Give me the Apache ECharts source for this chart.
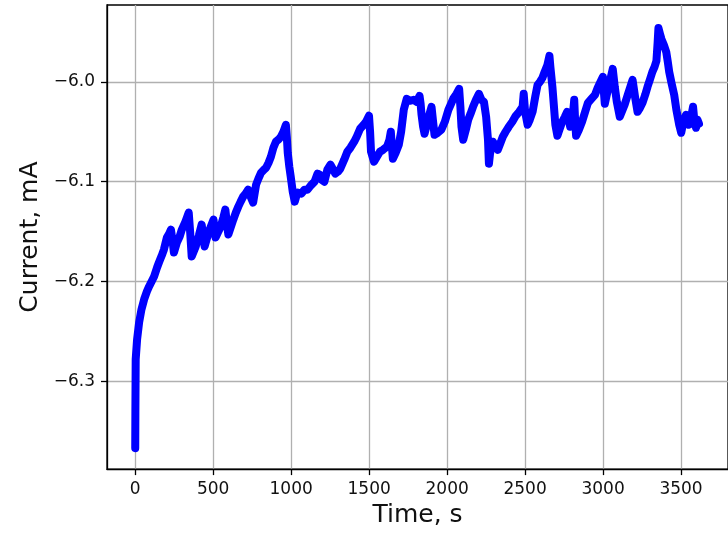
<!DOCTYPE html>
<html>
<head>
<meta charset="utf-8">
<script src="https://cdn.jsdelivr.net/npm/echarts@6/dist/echarts.min.js"></script>
<style>
  html, body { margin: 0; padding: 0; background: #fff; }
  #chart { width: 728px; height: 533px; }
</style>
</head>
<body>
<div id="chart"></div>
<script>
// Chronoamperometry record: time (s) and current (mA)
const timeS = [
  0, 1, 3, 12, 25, 40, 57, 75, 89, 105, 121, 140, 152, 170, 184, 203, 218, 229, 240, 248,
  267, 285, 299, 322, 343, 352, 362, 375, 388, 408, 426, 436, 445, 470, 490, 502, 515, 530, 546, 565,
  578, 590, 597, 612, 629, 645, 661, 676, 692, 708, 724, 740, 756, 775, 790, 807, 825, 839, 855, 870,
  886, 902, 918, 934, 950, 966, 972, 978, 988, 997, 1010, 1023, 1032, 1042, 1065, 1086, 1105, 1125, 1150, 1169,
  1182, 1195, 1213, 1232, 1252, 1270, 1283, 1300, 1315, 1340, 1360, 1380, 1404, 1420, 1442, 1465, 1480, 1499, 1506, 1512,
  1531, 1550, 1569, 1590, 1614, 1630, 1639, 1646, 1652, 1670, 1690, 1705, 1722, 1741, 1760, 1785, 1805, 1823, 1830, 1836,
  1846, 1855, 1868, 1880, 1900, 1910, 1919, 1940, 1963, 1985, 2008, 2025, 2039, 2060, 2077, 2085, 2092, 2103, 2120, 2135,
  2150, 2166, 2185, 2204, 2220, 2236, 2250, 2262, 2268, 2275, 2293, 2310, 2325, 2340, 2357, 2375, 2395, 2418, 2440, 2462,
  2484, 2491, 2500, 2516, 2530, 2548, 2565, 2580, 2595, 2611, 2625, 2643, 2656, 2662, 2675, 2685, 2694, 2707, 2720, 2738,
  2755, 2770, 2789, 2805, 2815, 2821, 2827, 2845, 2865, 2885, 2903, 2925, 2948, 2965, 2980, 2999, 3005, 3011, 3025, 3043,
  3062, 3075, 3088, 3107, 3120, 3138, 3160, 3175, 3189, 3205, 3221, 3237, 3253, 3270, 3285, 3300, 3316, 3330, 3342, 3350,
  3355, 3365, 3374, 3390, 3405, 3415, 3424, 3440, 3456, 3470, 3488, 3501, 3515, 3532, 3551, 3565, 3577, 3586, 3596, 3605,
  3615
];
const currentMA = [
  -6.367, -6.330, -6.278, -6.258, -6.241, -6.228, -6.218, -6.210, -6.205, -6.200, -6.195, -6.186, -6.181, -6.174, -6.168, -6.156, -6.152, -6.148, -6.160, -6.171,
  -6.161, -6.155, -6.148, -6.140, -6.131, -6.150, -6.175, -6.170, -6.165, -6.154, -6.143, -6.155, -6.165, -6.151, -6.143, -6.138, -6.156, -6.151, -6.146, -6.136,
  -6.128, -6.145, -6.153, -6.146, -6.138, -6.131, -6.125, -6.120, -6.115, -6.112, -6.108, -6.115, -6.121, -6.103, -6.097, -6.091, -6.088, -6.086, -6.081, -6.075,
  -6.066, -6.060, -6.058, -6.055, -6.050, -6.043, -6.055, -6.071, -6.085, -6.095, -6.110, -6.120, -6.115, -6.111, -6.112, -6.108, -6.108, -6.104, -6.100, -6.092,
  -6.093, -6.098, -6.100, -6.088, -6.083, -6.088, -6.092, -6.090, -6.087, -6.078, -6.070, -6.066, -6.060, -6.055, -6.047, -6.043, -6.040, -6.034, -6.050, -6.070,
  -6.080, -6.075, -6.070, -6.068, -6.065, -6.058, -6.050, -6.065, -6.077, -6.071, -6.063, -6.050, -6.028, -6.017, -6.019, -6.018, -6.020, -6.014, -6.022, -6.033,
  -6.045, -6.052, -6.044, -6.036, -6.025, -6.040, -6.053, -6.051, -6.048, -6.040, -6.028, -6.022, -6.017, -6.012, -6.007, -6.025, -6.045, -6.058, -6.048, -6.038,
  -6.032, -6.025, -6.018, -6.012, -6.018, -6.020, -6.035, -6.058, -6.082, -6.072, -6.060, -6.064, -6.068, -6.062, -6.055, -6.050, -6.045, -6.040, -6.034, -6.030,
  -6.025, -6.012, -6.030, -6.043, -6.038, -6.030, -6.015, -6.003, -6.000, -5.996, -5.990, -5.983, -5.974, -5.985, -6.005, -6.025, -6.043, -6.054, -6.048, -6.040,
  -6.035, -6.030, -6.045, -6.035, -6.018, -6.040, -6.054, -6.048, -6.040, -6.030, -6.021, -6.017, -6.013, -6.006, -6.001, -5.995, -6.010, -6.022, -6.012, -6.000,
  -5.987, -6.005, -6.020, -6.035, -6.030, -6.023, -6.012, -6.005, -5.998, -6.015, -6.030, -6.026, -6.021, -6.013, -6.005, -5.998, -5.990, -5.985, -5.979, -5.960,
  -5.946, -5.952, -5.957, -5.963, -5.970, -5.980, -5.990, -6.002, -6.013, -6.028, -6.043, -6.051, -6.040, -6.033, -6.043, -6.035, -6.025, -6.040, -6.046, -6.038,
  -6.042
];

// Tick positions
const xTicks = [0, 500, 1000, 1500, 2000, 2500, 3000, 3500];
const yTicks = [-6.3, -6.2, -6.1, -6.0];

const seriesData = timeS.map((t, i) => [t, currentMA[i]]);

const fontFamily = '"DejaVu Sans", sans-serif';
const fmtY = v => (v < 0 ? '\u2212' : '') + Math.abs(v).toFixed(1);

const chart = echarts.init(document.getElementById('chart'), null, { renderer: 'canvas' });
chart.setOption({
  animation: false,
  backgroundColor: '#ffffff',
  grid: {
    left: 107, top: 5, right: -6, bottom: 63,
    show: true, borderColor: '#000', borderWidth: 1.3, backgroundColor: 'transparent'
  },
  xAxis: {
    type: 'value',
    min: -181, max: 3801,
    name: 'Time, s',
    nameLocation: 'middle',
    nameGap: 33,
    nameTextStyle: { fontSize: 25, color: '#111', fontFamily },
    axisLine: { show: true, onZero: false, lineStyle: { color: '#000', width: 1.3 } },
    axisTick: { show: true, inside: false, length: 6, customValues: xTicks, lineStyle: { color: '#000', width: 1.3 } },
    axisLabel: { customValues: xTicks, margin: 12, fontSize: 17, color: '#111', fontFamily, formatter: v => String(v) },
    splitLine: { show: true, lineStyle: { color: '#b0b0b0', width: 1.3 } }
  },
  yAxis: {
    type: 'value',
    min: -6.388, max: -5.923,
    name: 'Current, mA',
    nameLocation: 'middle',
    nameGap: 64,
    nameRotate: 90,
    nameTextStyle: { fontSize: 25, color: '#111', fontFamily },
    axisLine: { show: true, onZero: false, lineStyle: { color: '#000', width: 1.3 } },
    axisTick: { show: true, inside: false, length: 6, customValues: yTicks, lineStyle: { color: '#000', width: 1.3 } },
    axisLabel: { customValues: yTicks, margin: 12, fontSize: 17, color: '#111', fontFamily, formatter: fmtY },
    splitLine: { show: true, lineStyle: { color: '#b0b0b0', width: 1.3 } }
  },
  series: [{
    type: 'line',
    data: seriesData,
    showSymbol: false,
    smooth: false,
    lineStyle: { color: '#0000ff', width: 8, join: 'round', cap: 'round' },
    z: 3
  }]
});
</script>
</body>
</html>
